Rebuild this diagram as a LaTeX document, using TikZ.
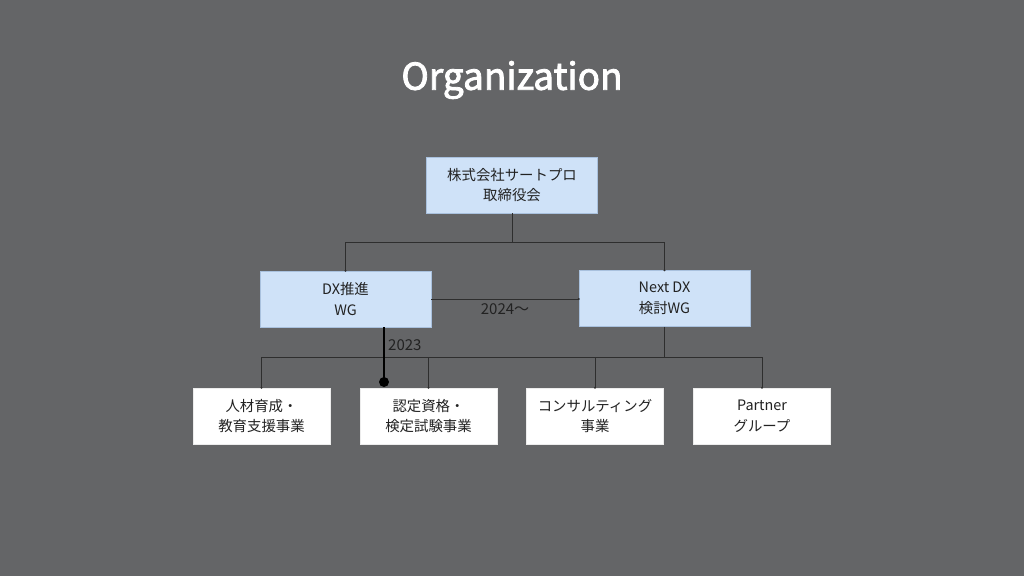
\documentclass[tikz,border=0pt]{standalone}
\usepackage{fontspec}
\setmainfont{Noto Sans CJK JP}
\newfontfamily\titlefont{Noto Sans CJK JP}[FakeBold=2.2]
\usetikzlibrary{calc}
\definecolor{bg}{HTML}{646567}
\definecolor{boxblue}{HTML}{CFE2F8}
\definecolor{boxbord}{HTML}{A9C1DE}
\definecolor{linec}{HTML}{2E2E2E}
\definecolor{txt}{HTML}{222222}
\tikzset{
  x=1pt,y=-1pt,
  bluebox/.style={draw=boxbord,line width=0.6pt,fill=boxblue,minimum width=171pt,minimum height=56pt,inner sep=0pt,align=center,font=\fontsize{14.4}{20.5}\selectfont,text=txt},
  whitebox/.style={draw=white!85!gray,line width=0.6pt,fill=white,minimum width=137pt,minimum height=56pt,inner sep=0pt,align=center,font=\fontsize{14.4}{20.5}\selectfont,text=txt},
  conn/.style={draw=linec,line width=0.9pt},
  thick conn/.style={draw=black,line width=2.8pt},
  lbl/.style={font=\fontsize{15}{17}\selectfont,text=txt,inner sep=0pt},
  enddot/.style={fill=linec,circle,inner sep=0pt,minimum size=2.2pt},
}
\begin{document}
\begin{tikzpicture}
\fill[bg] (0,0) rectangle (1024,576);
\useasboundingbox (0,0) rectangle (1024,576);
\node[text=white,font=\fontsize{37}{42}\titlefont] (title) at (512,80) {Organization};

\node[bluebox] (top) at (512,185) {株式会社サートプロ\\取締役会};
\node[bluebox] (dx) at (345.5,299) {DX推進\\WG};
\node[bluebox] (nx) at (664.5,298.5) {Next DX\\検討WG};

\node[whitebox] (b1) at (261.5,416) {人材育成・\\教育支援事業};
\node[whitebox] (b2) at (428.5,416) {認定資格・\\検定試験事業};
\node[whitebox] (b3) at (595,416) {コンサルティング\\事業};
\node[whitebox] (b4) at (762,416) {Partner\\グループ};

% top to second level
\coordinate (j1) at (512,242);
\draw[conn] (top.south) -- (j1);
\draw[conn] (j1) -- (j1 -| dx.north) -- (dx.north);
\draw[conn] (j1) -- (j1 -| nx.north) -- (nx.north);
\node[enddot] at (dx.north) {};
\node[enddot] at (nx.north) {};

% dx to next dx
\draw[conn] (dx.east) -- (dx.east -| nx.west);
\node[enddot] at (dx.east -| nx.west) {};
\node[lbl] (l2024) at (505,309) {2024〜};

% next dx to bottom row
\coordinate (j2) at (664.5,357);
\draw[conn] (nx.south) -- (j2);
\draw[conn] (j2 -| b1.north) -- (j2 -| b4.north);
\foreach \b in {b1,b2,b3,b4}{
  \draw[conn] (j2 -| \b.north) -- (\b.north);
  \node[enddot] at (\b.north) {};
}

% thick 2023 line
\coordinate (t1) at (384,327);
\coordinate (t2) at (384,382);
\draw[thick conn] (t1) -- (t2);
\fill[black] (t2) circle (5pt);
\node[lbl,anchor=west] (l2023) at (388,345) {2023};
\end{tikzpicture}
\end{document}
